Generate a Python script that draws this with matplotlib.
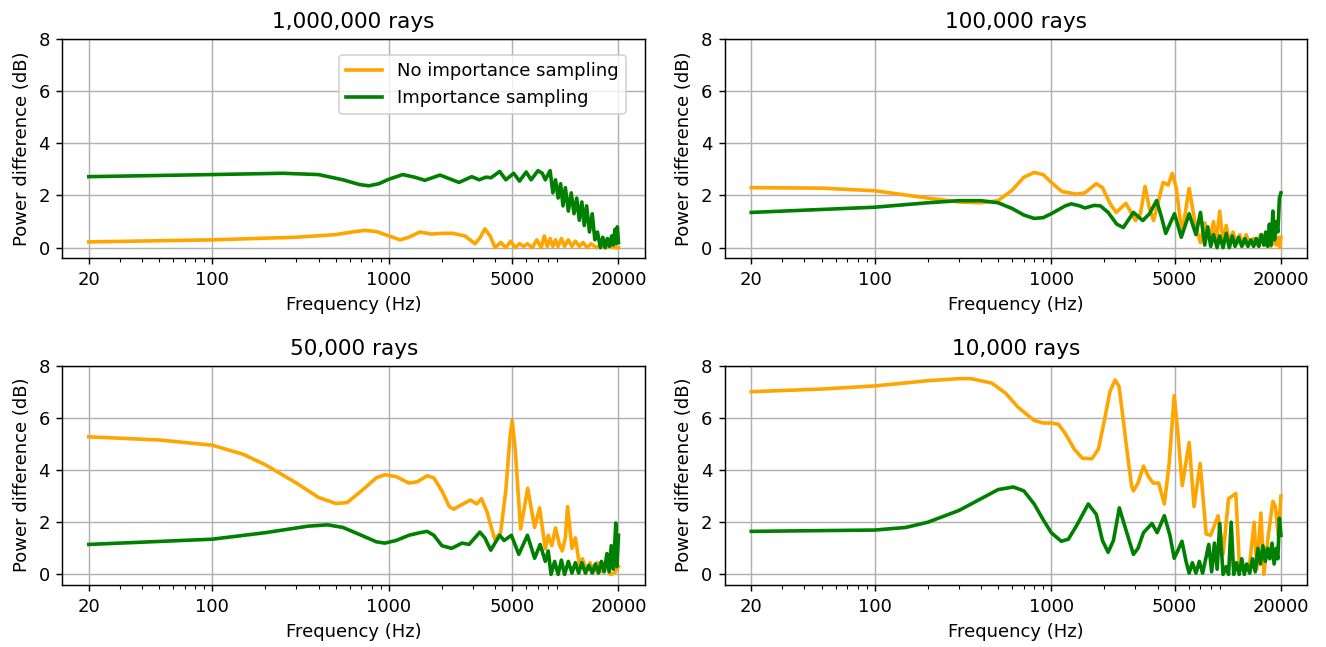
import matplotlib.pyplot as plt
from matplotlib.ticker import NullFormatter

# values (frequency in Hz, power difference in dB)
titles = ["1,000,000 rays", "100,000 rays", "50,000 rays", "10,000 rays"]
xticks = [20, 100, 1000, 5000, 20000]
xtick_labels = ["20", "100", "1000", "5000", "20000"]

# 1,000,000 rays
f_1m_no = [20, 100, 300, 500, 620, 730, 850, 1000, 1160, 1300, 1500, 1750, 2000, 2300, 2700,
           3080, 3300, 3500, 3750, 4000, 4300, 4600, 4900, 5200, 5500, 5800, 6100, 6500, 6900,
           7300, 7600, 7900, 8200, 8500, 8800, 9100, 9500, 9900, 10400, 10900, 11400, 12000,
           12600, 13300, 14000, 15000, 16000, 17000, 18000, 19000, 20000]
v_1m_no = [0.22, 0.3, 0.4, 0.5, 0.6, 0.66, 0.62, 0.45, 0.3, 0.4, 0.6, 0.52, 0.55, 0.55, 0.45,
           0.15, 0.4, 0.72, 0.45, 0.0, 0.2, 0.0, 0.25, 0.0, 0.15, 0.05, 0.15, 0.0, 0.3,
           0.0, 0.45, 0.05, 0.35, 0.05, 0.3, 0.05, 0.35, 0.05, 0.3, 0.05, 0.25, 0.05,
           0.2, 0.0, 0.15, 0.0, 0.1, 0.0, 0.05, 0.0, 0.0]
f_1m_is = [20, 100, 250, 400, 550, 680, 770, 880, 1000, 1200, 1400, 1600, 1950, 2500, 2950,
           3250, 3550, 3800, 4250, 4600, 5100, 5500, 6000, 6400, 7000, 7400, 7700, 8200, 8500,
           8800, 9100, 9400, 9700, 10000, 10400, 10800, 11200, 11600, 12000, 12400, 12800,
           13200, 13700, 14200, 14700, 15200, 15800, 16300, 16800, 17300, 17800, 18300, 18700,
           19100, 19400, 19700, 20000]
v_1m_is = [2.72, 2.8, 2.85, 2.8, 2.6, 2.42, 2.37, 2.45, 2.62, 2.8, 2.7, 2.58, 2.78, 2.5, 2.72,
           2.6, 2.7, 2.68, 2.92, 2.6, 2.85, 2.55, 2.9, 2.6, 2.95, 2.85, 2.6, 2.95, 2.1,
           2.6, 1.9, 2.45, 1.6, 2.3, 1.4, 2.1, 1.3, 1.9, 1.05, 1.75, 0.85,
           1.6, 0.6, 1.3, 0.3, 0.6, 0.0, 0.4, 0.0, 0.35, 0.05, 0.45, 0.1,
           0.7, 0.15, 0.8, 0.2]

# 100,000 rays
f_100k_no = [20, 50, 100, 200, 300, 400, 500, 600, 700, 800, 900, 1000, 1150, 1390, 1550, 1800,
             1950, 2150, 2330, 2650, 3000, 3200, 3400, 3600, 3800, 4050, 4300, 4600, 4850, 5100,
             5500, 6040, 6600, 7000, 7400, 7900, 8300, 8600, 9000, 9400, 9800, 10200, 10700,
             11200, 11700, 12200, 12700, 13300, 14000, 14700, 15300, 16000, 16800, 17500, 18200,
             18800, 19300, 19700, 20000]
v_100k_no = [2.3, 2.28, 2.18, 1.9, 1.75, 1.72, 1.8, 2.2, 2.7, 2.88, 2.8, 2.5, 2.15, 2.05, 2.1, 2.45,
             2.3, 1.7, 1.35, 1.7, 1.04, 1.3, 2.35, 1.5, 1.04, 1.8, 2.5, 2.4, 2.85, 2.3,
             0.53, 2.27, 0.77, 0.2, 0.95, 0.3, 1.0, 0.2, 1.4, 0.2, 0.85, 0.2, 0.6,
             0.15, 0.5, 0.1, 0.5, 0.15, 0.35, 0.1, 0.5, 0.1, 0.4, 0.05, 0.3,
             0.1, 0.4, 0.0, 0.4]
f_100k_is = [20, 100, 200, 300, 400, 500, 600, 700, 800, 900, 1000, 1200, 1300, 1450, 1550, 1750,
             1900, 2100, 2350, 2560, 2920, 3300, 3600, 3950, 4200, 4450, 4990, 5450, 6040, 6600,
             7000, 7400, 7700, 8000, 8300, 8700, 9000, 9400, 9800, 10200, 10600, 11000, 11500,
             12000, 12500, 13000, 13500, 14000, 14500, 15000, 15500, 16000, 16400, 16800, 17200,
             17600, 18000, 18400, 18800, 19200, 19600, 20000]
v_100k_is = [1.35, 1.55, 1.72, 1.8, 1.8, 1.72, 1.5, 1.25, 1.12, 1.15, 1.3, 1.6, 1.68, 1.6, 1.52, 1.62,
             1.6, 1.35, 0.9, 0.77, 1.35, 1.04, 1.3, 1.8, 1.2, 0.55, 1.3, 0.4, 1.3, 0.5,
             1.35, 0.1, 0.8, 0.05, 0.5, 0.0, 0.45, 0.0, 0.55, 0.0, 0.45, 0.05, 0.4,
             0.05, 0.35, 0.05, 0.3, 0.05, 0.35, 0.05, 0.5, 0.1, 0.6, 0.05, 0.9,
             0.1, 1.4, 0.3, 1.0, 0.6, 1.9, 2.1]

# 50,000 rays
f_50k_no = [20, 50, 100, 150, 200, 300, 400, 500, 580, 700, 850, 950, 1100, 1300, 1450, 1650,
            1800, 2000, 2200, 2330, 2550, 2900, 3150, 3350, 3600, 3980, 4300, 4600, 4850, 5000,
            5200, 5580, 6120, 6700, 7150, 7700, 8000, 8380, 8800, 9250, 9600, 10000, 10300,
            10900, 11400, 12000, 12500, 13200, 13800, 14500, 15200, 16000, 17000, 18000, 19000,
            20000]
v_50k_no = [5.27, 5.15, 4.95, 4.6, 4.2, 3.5, 2.95, 2.72, 2.75, 3.2, 3.7, 3.82, 3.75, 3.5, 3.55, 3.78,
            3.7, 3.2, 2.6, 2.5, 2.65, 2.85, 2.7, 2.9, 2.4, 1.35, 1.6, 3.2, 5.2, 5.9,
            4.8, 1.74, 3.3, 1.8, 2.55, 0.98, 1.5, 1.1, 1.78, 1.15, 0.9, 1.4, 2.6,
            1.0, 1.4, 0.4, 0.6, 0.15, 0.45, 0.1, 0.45, 0.1, 0.4, 0.0, 0.05,
            0.3]
f_50k_is = [20, 100, 200, 350, 450, 550, 700, 850, 950, 1100, 1300, 1500, 1650, 1800, 2000, 2270,
            2600, 2850, 3280, 3500, 3780, 4250, 4500, 4950, 5450, 6100, 6700, 7200, 7700, 8000,
            8300, 8700, 9100, 9500, 9900, 10400, 10900, 11400, 11900, 12400, 13000, 13600, 14200,
            14800, 15400, 16000, 16600, 17200, 17700, 18200, 18700, 19000, 19300, 19600, 20000]
v_50k_is = [1.15, 1.35, 1.6, 1.85, 1.9, 1.8, 1.5, 1.25, 1.2, 1.3, 1.5, 1.6, 1.65, 1.5, 1.1, 1.0,
            1.2, 1.15, 1.62, 1.4, 0.93, 1.5, 1.3, 1.5, 0.77, 1.5, 0.62, 1.15, 0.5, 0.9,
            0.0, 0.5, 0.0, 0.55, 0.0, 0.5, 0.05, 0.45, 0.05, 0.45, 0.05, 0.35, 0.05,
            0.4, 0.05, 0.5, 0.1, 0.8, 0.1, 1.1, 0.2, 1.0, 1.97, 0.3, 1.5]

# 10,000 rays
f_10k_no = [20, 50, 100, 200, 300, 350, 460, 550, 650, 800, 900, 1000, 1100, 1200, 1350, 1500,
            1700, 1850, 2000, 2150, 2300, 2420, 2550, 2700, 2850, 2920, 3100, 3330, 3550, 3780,
            4060, 4370, 4650, 4970, 5200, 5520, 6040, 6440, 6970, 7540, 8000, 8810, 9400, 10100,
            11100, 11600, 12300, 13200, 14100, 14600, 15400, 16000, 17000, 18000, 18600, 19300,
            20000]
v_10k_no = [7.0, 7.1, 7.22, 7.42, 7.5, 7.5, 7.33, 6.95, 6.4, 5.9, 5.8, 5.8, 5.75, 5.4, 4.8, 4.45,
            4.43, 4.8, 5.9, 7.0, 7.45, 7.2, 6.0, 4.6, 3.4, 3.2, 3.5, 4.15, 3.75, 3.5,
            3.5, 2.7, 4.2, 6.85, 5.5, 3.4, 5.05, 2.6, 4.25, 1.55, 1.5, 2.25, 0.77, 2.9,
            3.1, 0.5, 0.3, 0.2, 2.0, 0.2, 2.35, 0.0, 1.55, 2.8, 2.6, 1.5,
            3.0]
f_10k_is = [20, 100, 150, 200, 300, 400, 500, 610, 700, 800, 900, 1000, 1140, 1250, 1400, 1620,
            1800, 1950, 2100, 2250, 2430, 2650, 2920, 3100, 3330, 3720, 3980, 4370, 4700, 4970,
            5200, 5500, 5800, 6040, 6300, 6600, 6900, 7200, 7500, 7800, 8100, 8400, 8700, 9000,
            9400, 9800, 10100, 10450, 10800, 11200, 11600, 12000, 12400, 12800, 13300, 13800,
            14300, 14800, 15300, 15800, 16300, 16800, 17300, 17800, 18300, 18800, 19200, 19600,
            20000]
v_10k_is = [1.65, 1.7, 1.8, 2.0, 2.45, 2.9, 3.25, 3.35, 3.2, 2.7, 2.1, 1.6, 1.27, 1.35, 1.9, 2.7,
            2.3, 1.3, 0.85, 1.3, 2.55, 1.7, 0.77, 1.0, 1.6, 1.95, 1.6, 2.25, 1.5, 0.62,
            0.9, 1.27, 0.5, 0.05, 0.45, 0.05, 0.5, 0.05, 0.6, 1.15, 0.1, 1.2, 0.2, 1.95,
            0.0, 0.3, 0.0, 2.0, 0.0, 0.45, 0.0, 0.6, 0.0, 0.4, 0.05, 0.6,
            0.1, 1.0, 0.4, 1.1, 0.5, 1.0, 0.6, 1.2, 0.4, 1.0, 0.6, 2.15,
            1.5]

panels = [
    (f_1m_no, v_1m_no, f_1m_is, v_1m_is),
    (f_100k_no, v_100k_no, f_100k_is, v_100k_is),
    (f_50k_no, v_50k_no, f_50k_is, v_50k_is),
    (f_10k_no, v_10k_no, f_10k_is, v_10k_is),
]

fig, axes = plt.subplots(2, 2, figsize=(10.2, 4.977), dpi=130)
fig.subplots_adjust(left=0.047, right=0.986, top=0.940, bottom=0.096, wspace=0.137, hspace=0.49)

for ax, title, (fn, vn, fi, vi) in zip(axes.flat, titles, panels):
    ax.plot(fn, vn, color="orange", lw=2, label="No importance sampling")
    ax.plot(fi, vi, color="green", lw=2, label="Importance sampling")
    ax.set_xscale("log")
    ax.set_xticks(xticks, xtick_labels)
    ax.xaxis.set_minor_formatter(NullFormatter())
    ax.set_ylim(-0.4, 8)
    ax.set_yticks([0, 2, 4, 6, 8])
    ax.grid(True)
    ax.set_title(title)
    ax.set_xlabel("Frequency (Hz)")
    ax.set_ylabel("Power difference (dB)")

axes[0, 0].legend(loc="upper right", bbox_to_anchor=(0.967, 0.927), borderaxespad=0)

plt.savefig("out.png")
